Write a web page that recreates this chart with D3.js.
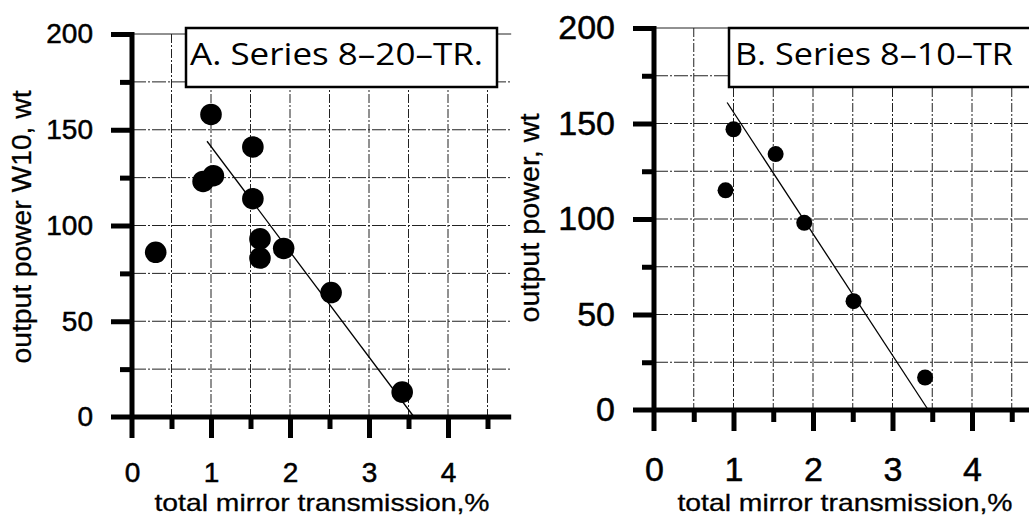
<!DOCTYPE html>
<html>
<head>
<meta charset="utf-8">
<script src="https://cdn.jsdelivr.net/npm/d3@7"></script>
<style>
  html, body { margin: 0; padding: 0; background: #fff; }
  svg { display: block; }
  text { font-family: "Liberation Sans", Arial, sans-serif; fill: #000; }
</style>
</head>
<body>
<svg id="chart" width="1029" height="518"></svg>
<script>
// ---------------- DATA ----------------
const xTickValues = [0, 0.5, 1, 1.5, 2, 2.5, 3, 3.5, 4, 4.5];
const xTickLabels = [0, 1, 2, 3, 4];
const yTickValues = [0, 25, 50, 75, 100, 125, 150, 175, 200];
const yTickLabels = [0, 50, 100, 150, 200];

// Panel A: Series 8-20-TR.
const titleA = "A. Series 8–20–TR.";
const yLabelA = "output power W10, wt";
const xLabelA = "total mirror transmission,%";
const transA = [0.3, 1.0, 0.9, 1.03, 1.53, 1.53, 1.62, 1.62, 1.92, 2.52, 3.42];
const powerA = [86, 158, 123, 126, 141, 114, 93, 83, 88, 65, 13];
const fitXA = [0.95, 3.57];
const fitYA = [144, 0];

// Panel B: Series 8-10-TR
const titleB = "B. Series 8–10–TR";
const yLabelB = "output power, wt";
const xLabelB = "total mirror transmission,%";
const transB = [1.0, 0.9, 1.53, 1.89, 2.51, 3.41];
const powerB = [147, 115, 134, 98, 57, 17];
const fitXB = [0.92, 3.45];
const fitYB = [161, 0];

// ---------------- LAYOUT ----------------
const svg = d3.select("#chart");

function panel(cfg) {
  const g = svg.append("g");
  const x = d3.scaleLinear().domain([0, cfg.xMax]).range([cfg.x0, cfg.x0 + cfg.xMax * cfg.unit]);
  const y = d3.scaleLinear().domain([0, 200]).range([cfg.y0, cfg.y200]);

  // grid
  const grid = g.append("g").style("stroke", "#222").style("stroke-width", "1px").attr("fill", "none");
  grid.selectAll("line.v").data(xTickValues.filter(d => d > 0)).join("line")
    .attr("x1", d => x(d)).attr("x2", d => x(d))
    .attr("y1", y(200)).attr("y2", y(0))
    .style("stroke-dasharray", "9,2,2,2");
  grid.selectAll("line.h").data(yTickValues.filter(d => d > 0)).join("line")
    .attr("x1", x(0)).attr("x2", x(cfg.xMax))
    .attr("y1", d => y(d)).attr("y2", d => y(d))
    .style("stroke-dasharray", d => d === 200 ? "none" : "14,2,2,2");

  // x axis
  const xa = g.append("g").attr("transform", `translate(0,${cfg.y0})`)
    .call(d3.axisBottom(x).tickValues(xTickValues).tickSizeOuter(0).tickSize(cfg.major)
      .tickPadding(cfg.xPad)
      .tickFormat(d => xTickLabels.includes(d) ? d : ""));
  xa.select(".domain").style("stroke-width", cfg.axisW + "px").style("stroke", "#000")
    .attr("d", `M${cfg.x0 - cfg.major},0H${x(cfg.xMax)}`);
  xa.selectAll(".tick line").style("stroke-width", cfg.axisW + "px").style("stroke", "#000")
    .attr("y2", d => Number.isInteger(d) ? cfg.major : cfg.minor);
  xa.selectAll(".tick text").attr("font-size", cfg.fs)
    .style("stroke", "#000").style("stroke-width", "0.5px");

  // y axis
  const ya = g.append("g").attr("transform", `translate(${cfg.x0},0)`)
    .call(d3.axisLeft(y).tickValues(yTickValues).tickSizeOuter(0).tickSize(cfg.major)
      .tickPadding(cfg.yPad)
      .tickFormat(d => yTickLabels.includes(d) ? d : ""));
  ya.select(".domain").style("stroke-width", cfg.axisW + "px").style("stroke", "#000")
    .attr("d", `M0,${y(200) - 2}V${cfg.y0 + cfg.major}`);
  ya.selectAll(".tick line").style("stroke-width", cfg.axisW + "px").style("stroke", "#000")
    .attr("x2", d => d % 50 === 0 ? -cfg.major : -cfg.minor);
  ya.selectAll(".tick text").attr("font-size", cfg.fs)
    .style("stroke", "#000").style("stroke-width", "0.5px");
  ya.selectAll(".tick").filter(d => d === 0).select("line").remove();
  xa.selectAll(".tick").filter(d => d === 0).select("line").remove();

  // fit line
  g.append("line")
    .attr("x1", x(cfg.fitX[0])).attr("y1", y(cfg.fitY[0]))
    .attr("x2", x(cfg.fitX[1])).attr("y2", y(cfg.fitY[1]))
    .style("stroke", "#000").style("stroke-width", "1.3px");

  // points
  g.selectAll("circle").data(cfg.xs.map((v, i) => [v, cfg.ys[i]])).join("circle")
    .attr("cx", d => x(d[0])).attr("cy", d => y(d[1])).attr("r", cfg.r).attr("fill", "#000");

  // legend box
  g.append("rect").attr("x", cfg.box[0]).attr("y", cfg.box[1])
    .attr("width", cfg.box[2]).attr("height", cfg.box[3])
    .attr("fill", "#fff").style("stroke", "#000").style("stroke-width", "2.5px");
  g.append("text").attr("x", cfg.title[0]).attr("y", cfg.title[1])
    .attr("font-size", 31).style("font-family", "'Open Sans', 'DejaVu Sans', sans-serif")
    .attr("textLength", cfg.title[2]).attr("lengthAdjust", "spacingAndGlyphs")
    .text(cfg.titleText);

  // axis labels
  g.append("text").attr("x", cfg.xl[0]).attr("y", cfg.xl[1]).attr("text-anchor", "middle")
    .attr("font-size", 24).attr("textLength", cfg.xl[2]).attr("lengthAdjust", "spacingAndGlyphs")
    .style("stroke", "#000").style("stroke-width", "0.3px")
    .text(cfg.xLabel);
  g.append("text").attr("transform", `translate(${cfg.yl[0]},${cfg.yl[1]}) rotate(-90)`)
    .attr("text-anchor", "middle").attr("font-size", 27)
    .attr("textLength", cfg.yl[2]).attr("lengthAdjust", "spacingAndGlyphs")
    .style("stroke", "#000").style("stroke-width", "0.3px")
    .text(cfg.yLabel);
}

panel({
  x0: 132, unit: 79, xMax: 4.8, y0: 417, y200: 34,
  major: 21, minor: 12, axisW: 5, fs: 28, xPad: 24, yPad: 18, r: 10.8,
  xs: transA, ys: powerA, fitX: fitXA, fitY: fitYA,
  box: [186, 28, 311, 59], title: [190, 65, 293], titleText: titleA,
  xl: [322, 511, 335], xLabel: xLabelA,
  yl: [31, 227, 273], yLabel: yLabelA
});

panel({
  x0: 654, unit: 79.5, xMax: 4.8, y0: 410, y200: 28,
  major: 21, minor: 12, axisW: 5, fs: 34, xPad: 26, yPad: 18, r: 8,
  xs: transB, ys: powerB, fitX: fitXB, fitY: fitYB,
  box: [729, 28, 320, 59], title: [735, 65, 278], titleText: titleB,
  xl: [845, 511, 335], xLabel: xLabelB,
  yl: [539, 218, 209], yLabel: yLabelB
});
</script>
</body>
</html>
